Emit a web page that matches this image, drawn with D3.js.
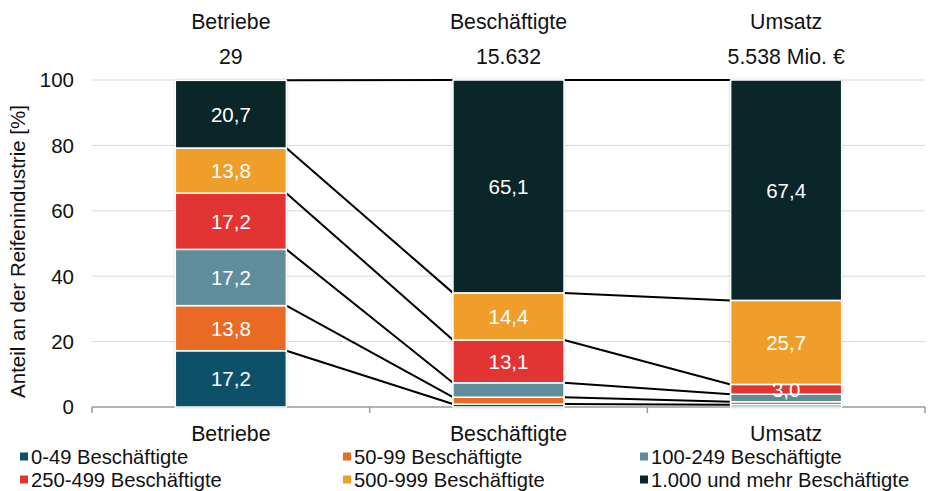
<!DOCTYPE html>
<html>
<head>
<meta charset="utf-8">
<script src="https://cdn.jsdelivr.net/npm/d3@7"></script>
<style>
  body { margin: 0; background: #fff; }
  svg { font-family: "Liberation Sans", Arial, sans-serif; }
</style>
</head>
<body>
<svg id="chart" width="929" height="491"></svg>
<script>
// data
const categories = ["Betriebe", "Beschäftigte", "Umsatz"];
const totals = ["29", "15.632", "5.538 Mio. €"];
const groups = ["0-49 Beschäftigte", "50-99 Beschäftigte", "100-249 Beschäftigte",
  "250-499 Beschäftigte", "500-999 Beschäftigte", "1.000 und mehr Beschäftigte"];
const betriebe = [17.2, 13.8, 17.2, 17.2, 13.8, 20.7];
const beschaeftigte = [0.9, 2.1, 4.4, 13.1, 14.4, 65.1];
const umsatz = [0.7, 0.9, 2.3, 3.0, 25.7, 67.4];
const colors = ["#0c5069", "#e96a23", "#608d9c", "#e23432", "#f09e2a", "#0a2628"];
const yTicks = [0, 20, 40, 60, 80, 100];
// first size class that gets a value label, per bar
const labelFrom = [0, 3, 3];

const series = [betriebe, beschaeftigte, umsatz];

const svg = d3.select("#chart");
const margin = {left: 92, right: 4, top: 80, bottom: 84};
const width = 929 - margin.left - margin.right;
const height = 491 - margin.top - margin.bottom;
const fs = 20.5;
const fsHead = 21.3;
const fsLegend = 20.2;

const x = d3.scaleBand().domain(categories).range([0, width]).paddingInner(0.6).paddingOuter(0.3);
const xOuter = d3.scaleBand().domain(categories).range([0, width]);
const y = d3.scaleLinear().domain([0, 100]).range([height, 0]);

const defs = svg.append("defs");
const f = defs.append("filter").attr("id", "shadow").attr("x", "-10%").attr("width", "120%");
f.append("feDropShadow").attr("dx", 0).attr("dy", 0).attr("stdDeviation", 1.6)
  .attr("flood-color", "#000").attr("flood-opacity", 0.28);

const g = svg.append("g").attr("transform", `translate(${margin.left},${margin.top})`);

// gridlines
g.append("g").selectAll("line").data(yTicks.slice(1)).join("line")
  .attr("x1", 0).attr("x2", width)
  .attr("y1", d => y(d)).attr("y2", d => y(d))
  .attr("stroke", "#d9d9d9").attr("stroke-width", 1);

// y labels
g.append("g").selectAll("text").data(yTicks).join("text")
  .attr("x", -18).attr("y", d => y(d)).attr("dy", "0.36em")
  .attr("text-anchor", "end").attr("font-size", fs).attr("fill", "#111")
  .text(d => d);

svg.append("text")
  .attr("transform", `translate(25,${margin.top + height / 2 + 8}) rotate(-90)`)
  .attr("text-anchor", "middle").attr("font-size", fs).attr("fill", "#111")
  .text("Anteil an der Reifenindustrie [%]");

// x axis
const xAxis = g.append("g").attr("transform", `translate(0,${height})`);
xAxis.append("line").attr("x1", 0).attr("x2", width).attr("stroke", "#9a9a9a").attr("stroke-width", 1.5);
xAxis.selectAll("line.tick").data([0].concat(categories.map(c => xOuter(c) + xOuter.bandwidth()))).join("line")
  .attr("class", "tick")
  .attr("x1", d => d).attr("x2", d => d).attr("y1", 0).attr("y2", 6)
  .attr("stroke", "#9a9a9a").attr("stroke-width", 1.5);
xAxis.selectAll("text").data(categories).join("text")
  .attr("x", d => x(d) + x.bandwidth() / 2).attr("y", 34)
  .attr("text-anchor", "middle").attr("font-size", fsHead).attr("fill", "#111")
  .text(d => d);

// headings
g.selectAll("text.head").data(categories).join("text").attr("class", "head")
  .attr("x", d => x(d) + x.bandwidth() / 2).attr("y", -51)
  .attr("text-anchor", "middle").attr("font-size", fsHead).attr("fill", "#111")
  .text(d => d);
g.selectAll("text.total").data(totals).join("text").attr("class", "total")
  .attr("x", (d, i) => x(categories[i]) + x.bandwidth() / 2).attr("y", -16)
  .attr("text-anchor", "middle").attr("font-size", fsHead).attr("fill", "#111")
  .text(d => d);

// stacked segments
const stacked = series.map(vals => {
  let c = 0;
  return vals.map((v, k) => { const s = {y0: c, y1: c + v, v: v, k: k}; c += v; return s; });
});

// connecting lines between bars
for (let i = 0; i < categories.length - 1; i++) {
  const a = stacked[i], b = stacked[i + 1];
  g.append("g").selectAll("line").data(d3.range(groups.length)).join("line")
    .attr("x1", x(categories[i]) + x.bandwidth())
    .attr("x2", x(categories[i + 1]))
    .attr("y1", k => y(Math.min(100, a[k].y1)))
    .attr("y2", k => y(Math.min(100, b[k].y1)))
    .attr("stroke", "#000").attr("stroke-width", 2);
}

stacked.forEach((segs, i) => {
  const bar = g.append("g").attr("transform", `translate(${x(categories[i])},0)`);
  bar.append("rect").attr("x", 0).attr("width", x.bandwidth())
    .attr("y", y(100)).attr("height", y(0) - y(100))
    .attr("fill", "#fff").attr("filter", "url(#shadow)");
  bar.selectAll("rect.seg").data(segs).join("rect").attr("class", "seg")
    .attr("x", 0).attr("width", x.bandwidth())
    .attr("y", d => y(d.y1)).attr("height", d => Math.max(0, y(d.y0) - y(d.y1)))
    .attr("fill", d => colors[d.k])
    .attr("stroke", "#fff").attr("stroke-width", 1.5);
  bar.selectAll("text").data(segs.filter(d => d.k >= labelFrom[i])).join("text")
    .attr("x", x.bandwidth() / 2).attr("y", d => y((d.y0 + d.y1) / 2)).attr("dy", "0.37em")
    .attr("text-anchor", "middle").attr("font-size", fs).attr("fill", "#fff")
    .text(d => d3.format(".1f")(d.v).replace(".", ","));
});

// legend
const legendX = [20, 343, 640];
const legendY = [456.5, 479.5];
const legend = svg.append("g").selectAll("g").data(groups).join("g")
  .attr("transform", (d, i) => `translate(${legendX[i % 3]},${legendY[Math.floor(i / 3)]})`);
legend.append("rect").attr("x", 0).attr("y", -4).attr("width", 8).attr("height", 8)
  .attr("fill", (d, i) => colors[i]);
legend.append("text").attr("x", 11).attr("y", 0).attr("dy", "0.36em")
  .attr("font-size", fsLegend).attr("fill", "#111").text(d => d);
</script>
</body>
</html>
